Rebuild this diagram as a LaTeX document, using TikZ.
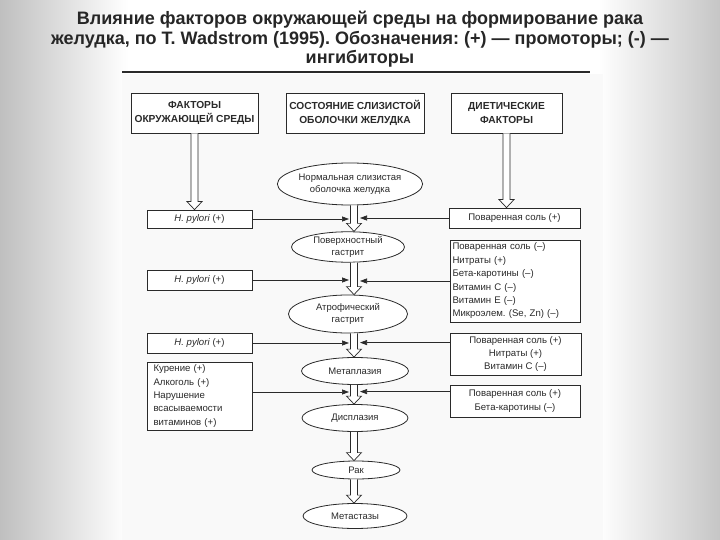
\documentclass[tikz,border=0pt]{standalone}
\usepackage{fontspec}
\setmainfont{Liberation Sans}
\usetikzlibrary{shapes.geometric, arrows.meta, calc}
\definecolor{ink}{HTML}{2A2A2A}
\frenchspacing
\tikzset{
  bx/.style 2 args={draw=ink, line width=0.8pt, fill=white, minimum width=#1pt, minimum height=#2pt, inner sep=2pt, text=ink, font=\fontsize{9.6}{13.4}\selectfont},
  hdr/.style={font=\bfseries\fontsize{10.2}{14}\selectfont, align=center},
  el/.style 2 args={draw=ink, line width=0.8pt, fill=white, ellipse, minimum width=#1pt, minimum height=#2pt, inner sep=0pt, text=ink, font=\fontsize{9.5}{12.5}\selectfont, align=center},
  hol/.style={draw=ink, fill=white, line width=0.7pt, line join=miter},
  harr/.style={draw=ink, line width=0.7pt, -{Triangle[length=7pt,width=5pt]}}
}
\newcommand{\hollowarr}[2]{%
  \path[hol] let \p1=(#1), \p2=(#2) in
   (\x1-3.5pt,\y1) -- (\x1-3.5pt,\y2+8pt) -- (\x1-7.5pt,\y2+8pt) -- (\x1,\y2)
   -- (\x1+7.5pt,\y2+8pt) -- (\x1+3.5pt,\y2+8pt) -- (\x1+3.5pt,\y1);}
\begin{document}
\frenchspacing
\begin{tikzpicture}[x=1pt, y=-1pt]
\useasboundingbox (0,0) rectangle (720,540);
% background
\fill[white] (0,0) rectangle (720,540);
\shade[left color=gray!50, right color=white] (0,0) rectangle (128,540);
\shade[left color=white, right color=gray!45] (598,0) rectangle (720,540);
\fill[gray!5] (122,74) rectangle (603,540);
\draw[line width=1.2pt, ink] (122,72) -- (590,72);
% title
\node[font=\bfseries\fontsize{18}{19.5}\selectfont, align=center, text=black!85] (title) at (360,39.5)
 {Влияние факторов окружающей среды на формирование рака\\
  желудка, по T. Wadstrom (1995). Обозначения: (+) — промоторы; (-) —\\
  ингибиторы};
% headers
\node[bx={127}{40}, hdr] (h1) at (194.5,113) {ФАКТОРЫ\\ОКРУЖАЮЩЕЙ СРЕДЫ};
\node[bx={138}{40}, hdr] (h2) at (355,113) {СОСТОЯНИЕ СЛИЗИСТОЙ\\ОБОЛОЧКИ ЖЕЛУДКА};
\node[bx={111}{40}, hdr] (h3) at (506.5,113) {ДИЕТИЧЕСКИЕ\\ФАКТОРЫ};
% left factor boxes
\node[bx={105}{18}] (L1) at (199.5,219) {\textit{H. pylori} (+)};
\node[bx={105}{20}] (L2) at (199.5,280) {\textit{H. pylori} (+)};
\node[bx={105}{20}] (L3) at (199.5,343) {\textit{H. pylori} (+)};
\node[bx={105}{68}, align=left, text width=92pt] (L4) at (199.5,396)
 {Курение (+)\\Алкоголь (+)\\Нарушение\\всасываемости\\витаминов (+)};
% right factor boxes
\node[bx={131}{20}] (R1) at (514.5,218) {Поваренная соль (+)};
\node[bx={130}{82}, align=left, text width=125pt] (R2) at (515,281)
 {Поваренная соль (–)\\Нитраты (+)\\Бета-каротины (–)\\Витамин С (–)\\Витамин Е (–)\\Микроэлем. (Se, Zn) (–)};
\node[bx={131}{42}, align=center] (R3) at (515.5,354) {Поваренная соль (+)\\Нитраты (+)\\Витамин С (–)};
\node[bx={130}{32}, align=center] (R4) at (515,401) {Поваренная соль (+)\\Бета-каротины (–)};
% central column
\coordinate (col) at (354,0);
\coordinate (lt) at (349,0);
\coordinate (rt) at (360,0);
\node[el={122}{42}] (E1) at (350,184) {Нормальная слизистая\\оболочка желудка};
\node[el={113}{30}] (E2) at (348,247) {Поверхностный\\гастрит};
\node[el={119}{38}] (E3) at (348,314) {Атрофический\\гастрит};
\node[el={107}{27}] (E4) at (355,371) {Метаплазия};
\node[el={106}{27}] (E5) at (355,418) {Дисплазия};
\node[el={88}{18}] (E6) at (356,470) {Рак};
\node[el={104}{25}] (E7) at (355,516) {Метастазы};
% hollow arrows
\hollowarr{h1.south}{L1.north}
\hollowarr{h3.south}{R1.north}
\hollowarr{E1.south -| col}{E2.north}
\hollowarr{E2.south -| col}{E3.north}
\hollowarr{E3.south -| col}{E4.north}
\hollowarr{E4.south -| col}{E5.north}
\hollowarr{E5.south -| col}{E6.north}
\hollowarr{E6.south -| col}{E7.north}
% horizontal arrows
\draw[harr] (L1.east) -- (L1.east -| lt);
\draw[harr] (R1.west) -- (R1.west -| rt);
\draw[harr] (L2.east) -- (L2.east -| lt);
\draw[harr] (R2.west) -- (R2.west -| rt);
\coordinate (r3a) at ($(R3.north west)+(0,10)$);
\coordinate (r4a) at ($(R4.north west)+(0,7)$);
\coordinate (l4a) at ($(L4.east)+(0,-4)$);
\draw[harr] (L3.east) -- (L3.east -| lt);
\draw[harr] (r3a) -- (r3a -| rt);
\draw[harr] (l4a) -- (l4a -| lt);
\draw[harr] (r4a) -- (r4a -| rt);
\end{tikzpicture}
\end{document}
